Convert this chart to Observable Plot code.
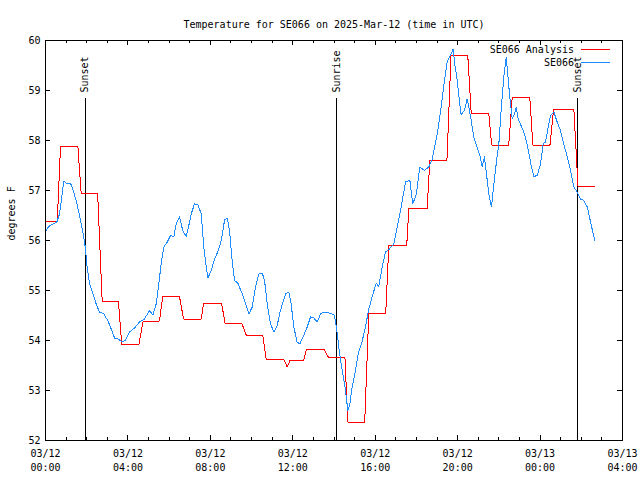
<!DOCTYPE html>
<html><head><meta charset="utf-8">
<script src="https://cdn.jsdelivr.net/npm/d3@7"></script>
<script src="https://cdn.jsdelivr.net/npm/@observablehq/plot@0.6"></script>
<style>
body{margin:0;background:#fff}
#chart svg{shape-rendering:crispEdges}
</style>
</head><body><div id="chart"></div>
<script>
const title = "Temperature for SE066 on 2025-Mar-12 (time in UTC)";
const yLabel = "degrees F";
const startDay = "2025-03-12T00:00:00Z";
const seriesNames = ["SE066 Analysis", "SE066"];
const seriesColors = ["#ff0000", "#1e8cff"];

// Observed SE066 (hours after 03/12 00:00 UTC, °F)
const obsHours = [0.03,0.15,0.35,0.55,0.68,0.79,0.89,1.00,1.21,1.32,
1.49,1.65,1.81,1.93,2.02,2.14,2.30,2.46,2.62,2.83,
3.02,3.19,3.35,3.51,3.70,3.88,4.08,4.32,4.56,4.80,
5.05,5.21,5.37,5.50,5.61,5.74,5.91,6.07,6.23,6.34,
6.50,6.66,6.83,6.94,7.07,7.23,7.39,7.56,7.68,7.80,
7.88,8.04,8.20,8.36,8.53,8.69,8.82,8.93,9.04,9.17,
9.33,9.55,9.71,9.87,10.03,10.19,10.35,10.52,10.63,10.76,
10.92,11.08,11.24,11.40,11.65,11.81,11.92,12.05,12.21,12.34,
12.53,12.70,12.86,13.02,13.18,13.35,13.51,13.75,13.99,14.07,
14.16,14.23,14.32,14.43,14.56,14.67,14.77,14.88,15.01,15.17,
15.33,15.49,15.69,15.85,16.05,16.17,16.34,16.50,16.69,16.90,
17.07,17.26,17.47,17.68,17.82,18.00,18.16,18.39,18.60,18.77,
19.01,19.20,19.36,19.49,19.65,19.78,19.86,19.98,20.10,20.17,
20.33,20.46,20.54,20.66,20.78,20.95,21.08,21.19,21.30,21.40,
21.51,21.64,21.76,21.89,22.00,22.11,22.24,22.36,22.43,22.53,
22.65,22.76,22.84,22.94,23.13,23.29,23.45,23.58,23.70,23.86,
24.02,24.15,24.26,24.38,24.51,24.67,24.83,24.99,25.15,25.32,
25.48,25.64,25.80,25.96,26.12,26.29,26.45,26.58,26.66];
const obsTemps = [56.20,56.28,56.33,56.37,56.53,56.87,57.19,57.15,57.15,57.03,
56.80,56.50,56.17,55.87,55.47,55.13,54.93,54.73,54.57,54.53,
54.40,54.23,54.05,54.03,53.98,54.00,54.17,54.25,54.37,54.43,
54.60,54.51,54.73,55.13,55.53,55.87,55.97,56.10,56.08,56.33,
56.47,56.20,56.08,56.27,56.53,56.73,56.72,56.53,55.87,55.47,
55.25,55.40,55.63,55.77,56.00,56.41,56.45,56.20,55.67,55.20,
55.15,54.93,54.73,54.53,54.67,55.07,55.33,55.35,55.20,54.73,
54.33,54.17,54.30,54.60,54.93,54.97,54.73,54.27,53.97,53.93,
54.10,54.27,54.47,54.45,54.37,54.53,54.57,54.55,54.52,54.40,
54.13,53.87,53.60,53.33,53.00,52.60,52.73,53.07,53.33,53.73,
53.93,54.20,54.63,54.87,55.15,55.08,55.47,55.77,55.83,55.93,
56.27,56.67,57.17,57.21,56.73,56.93,57.47,57.40,57.47,57.63,
58.13,58.67,59.20,59.57,59.70,59.83,59.53,59.20,58.73,58.52,
58.60,58.83,58.67,58.40,58.07,57.85,57.70,57.47,57.67,57.33,
56.93,56.67,57.13,57.60,57.93,58.60,59.27,59.67,59.33,58.87,
58.43,58.53,58.67,58.43,58.25,58.07,57.77,57.47,57.28,57.30,
57.53,57.93,57.97,58.23,58.50,58.57,58.37,58.20,57.93,57.67,
57.40,57.07,56.97,56.83,56.80,56.67,56.37,56.13,56.00];

// Analysis plateaus (start hour, end hour, °F)
const anaStart = [0,0.73,1.73,2.75,3.70,4.74,5.69,6.70,7.67,8.72,9.74,10.71,11.73,11.86,12.67,13.72,14.67,15.69,16.66,17.63,18.65,19.68,20.66,21.65,22.65,23.65,24.66,25.84];
const anaEnd   = [0.57,1.57,2.53,3.54,4.53,5.53,6.50,7.56,8.54,9.53,10.54,11.56,11.73,12.53,13.51,14.53,15.49,16.51,17.53,18.52,19.48,20.49,21.51,22.48,23.50,24.48,25.64,26.67];
const anaTemps = [56.38,57.89,56.95,54.79,53.92,54.39,54.88,54.43,54.75,54.34,54.11,53.63,53.47,53.60,53.83,53.67,52.37,54.55,55.90,56.64,57.60,59.71,58.54,57.91,58.87,57.91,58.63,57.09];

const eventLabels = ["Sunset", "Sunrise", "Sunset"];
const eventHours = [1.92, 14.14, 25.83];

const xMajorHours = [0,4,8,12,16,20,24,28];
const xMinorHours = d3.range(0, 29).filter(h => h % 4 !== 0);
const yTicks = [52,53,54,55,56,57,58,59,60];

const t0 = Date.parse(startDay);
const toDate = h => new Date(t0 + h * 3600e3);
const obs = obsHours.map((h, i) => ({date: toDate(h), temp: obsTemps[i]}));
const ana = anaStart.flatMap((s, i) => [
  {date: toDate(s), temp: anaTemps[i]},
  {date: toDate(anaEnd[i]), temp: anaTemps[i]}
]);
const events = eventHours.map((h, i) => ({date: toDate(h), label: eventLabels[i]}));
const fmtD = d3.utcFormat("%m/%d"), fmtT = d3.utcFormat("%H:%M");

const FONT = "DejaVu Sans Mono";

const legend = (index, scales, values, dims) => {
  const g = d3.create("svg:g").attr("font-family", FONT).attr("font-size", 10);
  const right = dims.width - dims.marginRight;
  seriesNames.forEach((name, i) => {
    const y = dims.marginTop + 9.5 + i * 13;
    g.append("text").attr("x", right - 48).attr("y", y).attr("dy", "0.35em")
      .attr("text-anchor", "end").attr("fill", "black").text(name);
    g.append("line").attr("x1", right - 41).attr("x2", right - 12)
      .attr("y1", y - 0.5).attr("y2", y - 0.5).attr("stroke", seriesColors[i]).attr("stroke-width", 1);
  });
  return g.node();
};

const chart = Plot.plot({
  width: 640, height: 480,
  marginLeft: 45, marginRight: 18, marginTop: 40, marginBottom: 40,
  style: {fontFamily: FONT, fontSize: "10px", background: "white", color: "black"},
  x: {type: "utc", domain: [toDate(0), toDate(28)]},
  y: {domain: [52, 60]},
  marks: [
    // ticks (inward, mirrored)
    Plot.ruleX(xMajorHours.map(toDate), {x: d => d, insetTop: 395, stroke: "black"}),
    Plot.ruleX(xMajorHours.map(toDate), {x: d => d, insetBottom: 395, stroke: "black"}),
    Plot.ruleX(xMinorHours.map(toDate), {x: d => d, insetTop: 397, stroke: "black"}),
    Plot.ruleX(xMinorHours.map(toDate), {x: d => d, insetBottom: 397, stroke: "black"}),
    Plot.ruleY(yTicks, {y: d => d, insetRight: 572, stroke: "black"}),
    Plot.ruleY(yTicks, {y: d => d, insetLeft: 572, stroke: "black"}),
    Plot.axisX(xMajorHours.map(toDate), {tickSize: 0, tickPadding: 7, label: null,
      tickFormat: d => fmtD(d) + "\n" + fmtT(d), lineHeight: 1.4, fontSize: 10}),
    Plot.axisY(yTicks, {tickSize: 0, tickPadding: 5, label: null, tickFormat: d => String(d), fontSize: 10}),
    Plot.text([yLabel], {frameAnchor: "left", dx: -34, rotate: -90, text: d => d, fontSize: 10, fill: "black"}),
    Plot.text([title], {frameAnchor: "top", dy: -20, text: d => d, fontSize: 10, fill: "black"}),
    // sunrise/sunset
    Plot.ruleX(events, {x: "date", insetTop: 58, stroke: "black"}),
    Plot.text(events, {x: "date", text: "label", frameAnchor: "top", dy: 52, rotate: -90,
      textAnchor: "start", lineAnchor: "middle", fontSize: 10, fill: "black"}),
    // series
    Plot.line(ana, {x: "date", y: "temp", stroke: seriesColors[0], strokeWidth: 1}),
    Plot.line(obs, {x: "date", y: "temp", stroke: seriesColors[1], strokeWidth: 1}),
    Plot.frame({stroke: "black"}),
    legend
  ]
});
document.getElementById("chart").appendChild(chart);
</script>
</body></html>
